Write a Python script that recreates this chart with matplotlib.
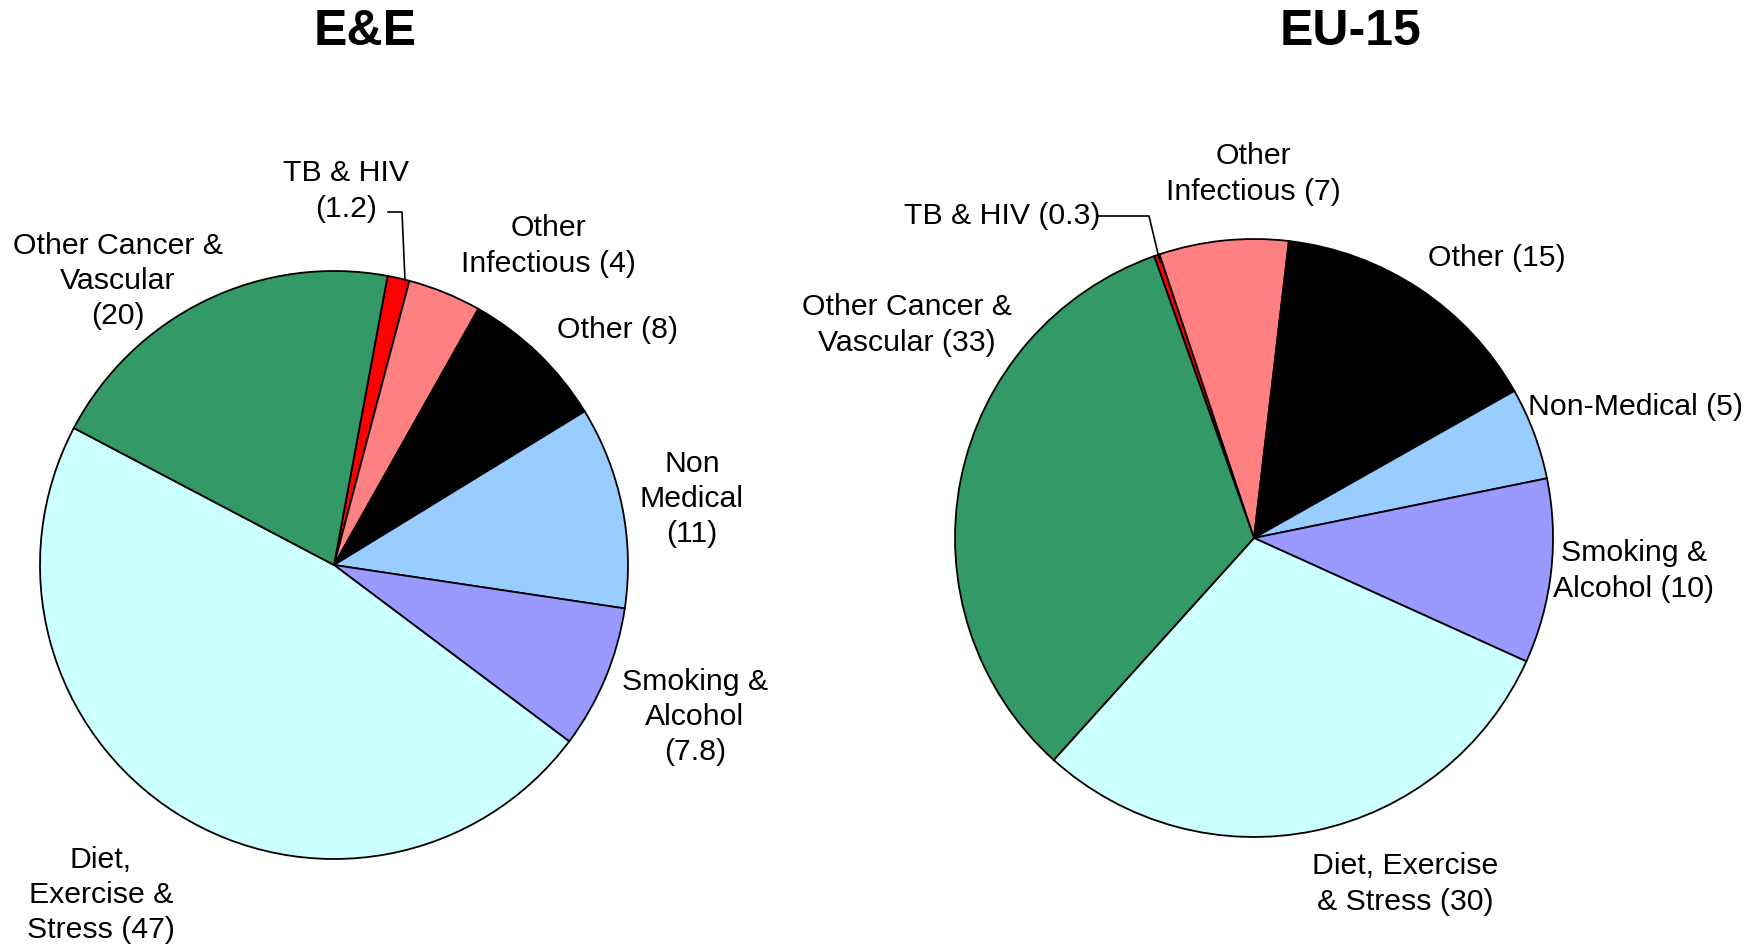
import matplotlib

matplotlib.use("Agg")
import matplotlib.pyplot as plt

plt.rcParams["font.family"] = ["Liberation Sans", "DejaVu Sans"]

W, H = 1765, 947

COLORS = ["#FF0000", "#FF8080", "#000000", "#99CCFF", "#9999FF", "#CCFFFF", "#339966"]

ee_values = [1.2, 4, 8, 11, 7.8, 47, 20]
ee_labels = [
    "TB & HIV\n(1.2)",
    "Other\nInfectious (4)",
    "Other (8)",
    "Non\nMedical\n(11)",
    "Smoking &\nAlcohol\n(7.8)",
    "Diet,\nExercise &\nStress (47)",
    "Other Cancer &\nVascular\n(20)",
]

eu_values = [0.3, 7, 15, 5, 10, 30, 33]
eu_labels = [
    "TB & HIV (0.3)",
    "Other\nInfectious (7)",
    "Other (15)",
    "Non-Medical (5)",
    "Smoking &\nAlcohol (10)",
    "Diet, Exercise\n& Stress (30)",
    "Other Cancer &\nVascular (33)",
]

# label positions in pixel coordinates (x, y from top)
ee_label_pos = [(346, 191), (548, 246), (618, 330), (692, 499), (695, 717), (101, 895), (118, 281)]
eu_label_pos = [(1002, 216), (1253, 174), (1497, 258), (1636, 407), (1634, 571), (1405, 884), (907, 325)]


def py(y):
    return H - y


def draw_pie(ax, values, labels, positions, center, radius, start, title, title_x, leader):
    ax.pie(
        values,
        colors=COLORS,
        startangle=start,
        counterclock=False,
        center=(center[0], py(center[1])),
        radius=radius,
        wedgeprops=dict(edgecolor="black", linewidth=1.3),
    )
    for text, (x, y) in zip(labels, positions):
        ax.text(x, py(y), text, ha="center", va="center", fontsize=21.8, linespacing=1.32)
    ax.text(title_x, py(32), title, ha="center", va="center", fontsize=36, fontweight="bold")
    xs = [p[0] for p in leader]
    ys = [py(p[1]) for p in leader]
    ax.plot(xs, ys, color="black", linewidth=1.2)


fig = plt.figure(figsize=(W / 100, H / 100), dpi=100)
ax = fig.add_axes([0, 0, 1, 1])

draw_pie(ax, ee_values, ee_labels, ee_label_pos, (334, 565), 294, 79.5, "E&E", 365,
         [(388, 212), (402, 212), (405, 280)])
draw_pie(ax, eu_values, eu_labels, eu_label_pos, (1254, 538), 299, 109.5, "EU-15", 1351,
         [(1098, 216), (1149, 216), (1160, 262)])

ax.set_xlim(0, W)
ax.set_ylim(0, H)
ax.set_aspect("equal")
ax.axis("off")

fig.savefig("out.png", dpi=100, facecolor="white")
